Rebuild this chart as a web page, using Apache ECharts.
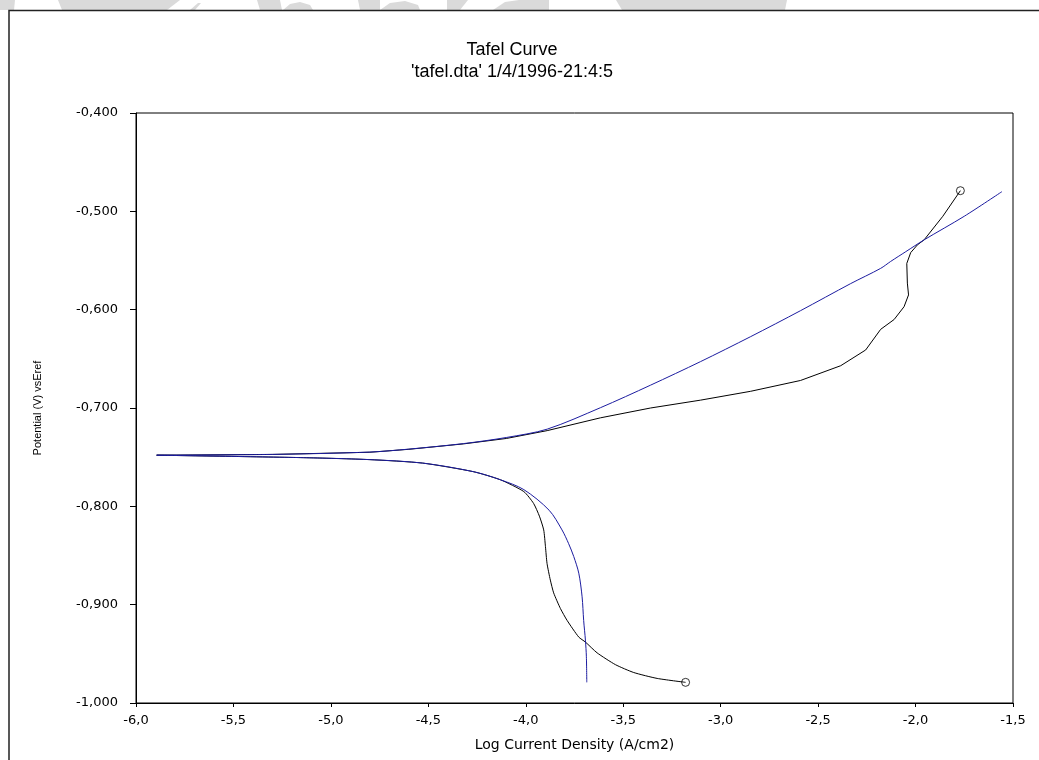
<!DOCTYPE html>
<html>
<head>
  <meta charset="utf-8">
  <title>Tafel Curve</title>
  <script src="https://cdn.jsdelivr.net/npm/echarts@6/dist/echarts.min.js"></script>
  <style>
    html, body { margin: 0; padding: 0; background: #fff; }
    #main { width: 1039px; height: 760px; }
  </style>
</head>
<body>
  <div id="main"></div>
  <script type="text/javascript">
    // measured curve (black), [log i, E]
    var blackAnodic = [
      [-5.894, -0.748], [-5.3, -0.7472], [-4.8, -0.745], [-4.6, -0.742], [-4.32, -0.7365],
      [-4.1, -0.731], [-3.89, -0.723], [-3.617, -0.710], [-3.36, -0.700], [-3.103, -0.692],
      [-2.846, -0.683], [-2.59, -0.672], [-2.384, -0.657], [-2.256, -0.641], [-2.179, -0.620],
      [-2.11, -0.610], [-2.059, -0.597], [-2.036, -0.585], [-2.042, -0.573], [-2.045, -0.553],
      [-2.025, -0.542], [-1.99, -0.534], [-1.956, -0.529], [-1.86, -0.505], [-1.77, -0.479]
    ];
    var blackCathodic = [
      [-5.894, -0.748], [-5.14, -0.7505], [-4.8, -0.7525], [-4.53, -0.756], [-4.27, -0.7647],
      [-4.13, -0.773], [-4.01, -0.785], [-3.96, -0.797], [-3.93, -0.810], [-3.908, -0.824],
      [-3.899, -0.841], [-3.891, -0.858], [-3.874, -0.875], [-3.857, -0.888], [-3.822, -0.904],
      [-3.788, -0.916], [-3.728, -0.933], [-3.694, -0.938], [-3.634, -0.949], [-3.54, -0.961],
      [-3.446, -0.969], [-3.326, -0.975], [-3.18, -0.979]
    ];
    // fitted curve (blue)
    var blueAnodic = [
      [-5.894, -0.748], [-5.3, -0.7472], [-4.8, -0.7448], [-4.6, -0.7418], [-4.32, -0.7362],
      [-4.1, -0.7300], [-3.89, -0.7215], [-3.617, -0.6997], [-3.36, -0.6768], [-3.103, -0.6528],
      [-2.846, -0.6274], [-2.59, -0.601], [-2.333, -0.5735], [-2.179, -0.558], [-2.128, -0.551],
      [-2.05, -0.541], [-1.956, -0.529], [-1.75, -0.505], [-1.557, -0.480]
    ];
    var blueCathodic = [
      [-5.894, -0.748], [-5.14, -0.7505], [-4.8, -0.7525], [-4.53, -0.756], [-4.27, -0.7647],
      [-4.13, -0.773], [-4.01, -0.783], [-3.88, -0.804], [-3.814, -0.824], [-3.78, -0.838],
      [-3.754, -0.851], [-3.728, -0.868], [-3.711, -0.892], [-3.703, -0.916], [-3.694, -0.936],
      [-3.689, -0.953], [-3.687, -0.979]
    ];
    // end markers of the measured curve
    var endPoints = [blackAnodic[blackAnodic.length - 1], blackCathodic[blackCathodic.length - 1]];

    var titleText = "Tafel Curve\n'tafel.dta' 1/4/1996-21:4:5";
    var xName = 'Log Current Density (A/cm2)';
    var yName = 'Potential (V) vsEref';

    // light gray watermark pieces at the top edge
    var marks = [
      [[0, 0], [15, 0], [14, 10], [0, 10]],
      [[58, 0], [180, 0], [167, 10], [62, 10]],
      [[190, 10], [198, 3], [201, 3], [195, 10]],
      [[257, 0], [280, 0], [282, 10], [260, 10]],
      [[283, 10], [290, 4], [300, 2], [310, 5], [313, 10]],
      [[358, 0], [380, 0], [380, 10], [360, 10]],
      [[380, 10], [390, 3], [405, 1], [418, 5], [420, 10]],
      [[447, 0], [468, 0], [460, 10], [447, 10]],
      [[493, 10], [505, 2], [519, 0], [549, 0], [549, 10]],
      [[616, 0], [787, 0], [785, 10], [622, 10]]
    ];

    var myChart = echarts.init(document.getElementById('main'));

    function comma(v, d) {
      return v.toFixed(d).replace('.', ',');
    }

    var graphics = marks.map(function (p) {
      return { type: 'polygon', shape: { points: p }, style: { fill: '#dadada' }, z: -1 };
    });
    graphics.push({
      type: 'rect',
      shape: { x: 9, y: 10.5, width: 1100, height: 800 },
      style: { fill: null, stroke: '#222', lineWidth: 1.5 },
      z: 0
    });

    var option = {
      backgroundColor: '#fff',
      animation: false,
      graphic: graphics,
      title: {
        text: titleText,
        left: 507,
        textAlign: 'center',
        top: 34,
        textStyle: {
          fontFamily: 'Liberation Sans',
          fontSize: 18,
          fontWeight: 'normal',
          lineHeight: 22,
          color: '#000'
        }
      },
      grid: {
        left: 136,
        right: 26,
        top: 113,
        bottom: 57,
        show: true,
        borderColor: '#000',
        borderWidth: 1
      },
      xAxis: {
        type: 'value',
        min: -6,
        max: -1.5,
        interval: 0.5,
        name: xName,
        nameLocation: 'middle',
        nameGap: 35,
        nameTextStyle: { fontFamily: 'DejaVu Sans', fontSize: 14, color: '#000' },
        axisLine: { onZero: false, lineStyle: { color: '#000', width: 1 } },
        axisTick: { length: 4, lineStyle: { color: '#000' } },
        splitLine: { show: false },
        axisLabel: {
          margin: 11,
          fontFamily: 'DejaVu Sans',
          fontSize: 13,
          color: '#000',
          formatter: function (v) { return comma(v, 1); }
        }
      },
      yAxis: {
        type: 'value',
        min: -1,
        max: -0.4,
        interval: 0.1,
        name: yName,
        nameLocation: 'middle',
        nameGap: 93,
        nameTextStyle: { fontFamily: 'Liberation Sans', fontSize: 11, color: '#000' },
        axisLine: { onZero: false, lineStyle: { color: '#000', width: 1 } },
        axisTick: { length: 6, lineStyle: { color: '#000' } },
        splitLine: { show: false },
        axisLabel: {
          margin: 18,
          fontFamily: 'DejaVu Sans',
          fontSize: 13,
          color: '#000',
          formatter: function (v) { return comma(v, 3); }
        }
      },
      series: [
        {
          type: 'line', data: blackAnodic, showSymbol: false,
          lineStyle: { color: '#000', width: 1 }
        },
        {
          type: 'line', data: blackCathodic, showSymbol: false, smooth: 0.2,
          lineStyle: { color: '#000', width: 1 }
        },
        {
          type: 'line', data: blueAnodic, showSymbol: false, smooth: 0.3,
          lineStyle: { color: '#1c1ca0', width: 1 }
        },
        {
          type: 'line', data: blueCathodic, showSymbol: false, smooth: 0.3,
          lineStyle: { color: '#1c1ca0', width: 1 }
        },
        {
          type: 'scatter', data: endPoints, symbol: 'circle', symbolSize: 8,
          itemStyle: { color: '#fff', borderColor: '#000', borderWidth: 1 }
        }
      ]
    };

    myChart.setOption(option);
  </script>
</body>
</html>
